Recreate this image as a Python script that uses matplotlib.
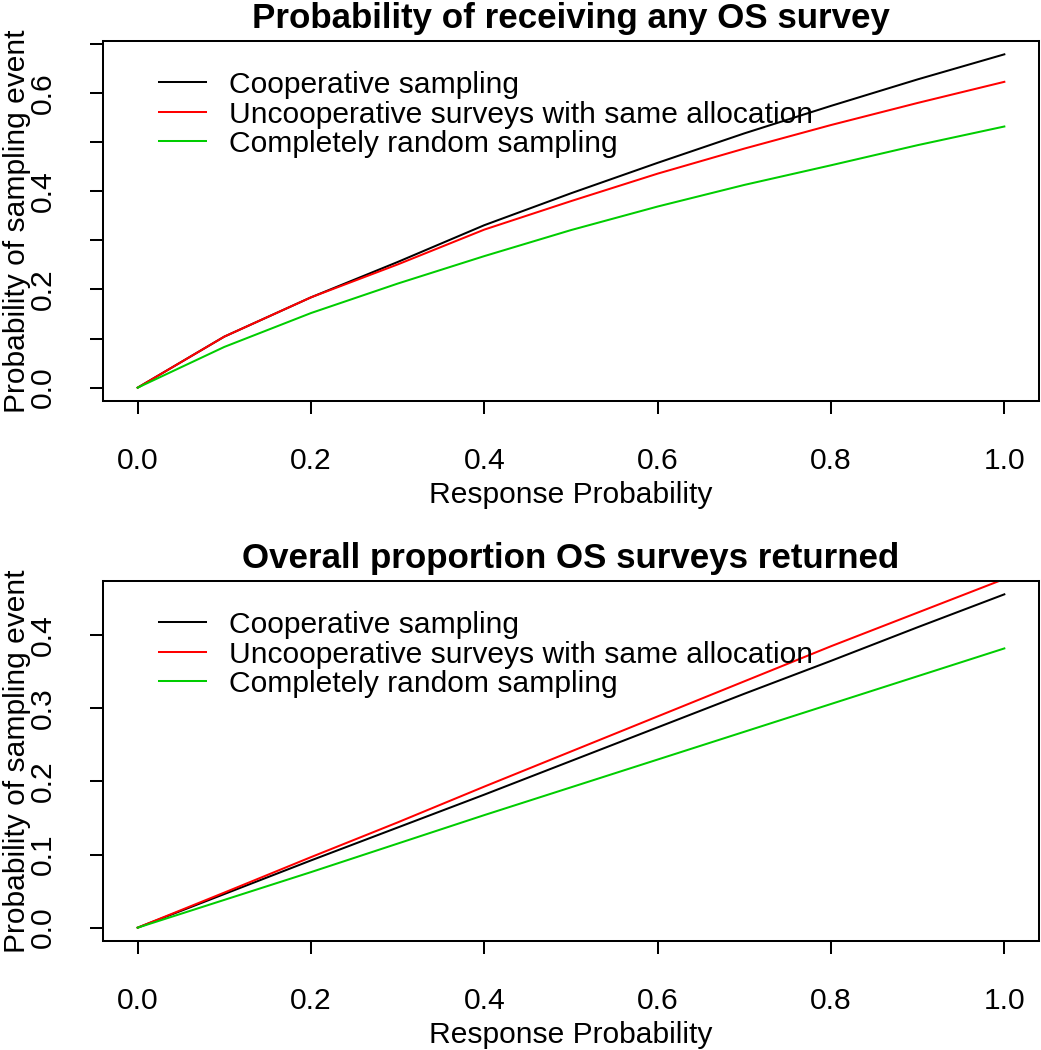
import matplotlib
matplotlib.use("Agg")
import matplotlib.pyplot as plt
from matplotlib.lines import Line2D
import numpy as np

plt.rcParams['font.family'] = ['Liberation Sans', 'DejaVu Sans']

# ---------------- data ----------------
response_prob = [0.0, 0.1, 0.2, 0.3, 0.4, 0.5, 0.6, 0.7, 0.8, 0.9, 1.0]

# Panel 1: Probability of receiving any OS survey
recv_coop = [0.0, 0.104, 0.184, 0.256, 0.331, 0.396, 0.458, 0.518, 0.574, 0.628, 0.679]
recv_uncoop = [0.0, 0.104, 0.184, 0.251, 0.322, 0.380, 0.436, 0.487, 0.535, 0.580, 0.623]
recv_random = [0.0, 0.083, 0.152, 0.212, 0.268, 0.321, 0.369, 0.413, 0.453, 0.494, 0.532]

# Panel 2: Overall proportion OS surveys returned
ret_coop = [0.0, 0.046, 0.092, 0.137, 0.182, 0.228, 0.274, 0.320, 0.365, 0.411, 0.456]
ret_uncoop = [0.0, 0.048, 0.0965, 0.144, 0.193, 0.241, 0.289, 0.337, 0.385, 0.431, 0.477]
ret_random = [0.0, 0.038, 0.076, 0.115, 0.154, 0.192, 0.230, 0.268, 0.306, 0.344, 0.382]

series_labels = ["Cooperative sampling",
                 "Uncooperative surveys with same allocation",
                 "Completely random sampling"]
series_colors = ["black", "#FF0000", "#00CD00"]

titles = ["Probability of receiving any OS survey",
          "Overall proportion OS surveys returned"]
xlabel = "Response Probability"
ylabel = "Probability of sampling event"

xticks = [0.0, 0.2, 0.4, 0.6, 0.8, 1.0]
xticklabels = ["0.0", "0.2", "0.4", "0.6", "0.8", "1.0"]
yticks_top = [0.0, 0.1, 0.2, 0.3, 0.4, 0.5, 0.6, 0.7]
yticklabels_top = ["0.0", "", "0.2", "", "0.4", "", "0.6", ""]
yticks_bot = [0.0, 0.1, 0.2, 0.3, 0.4]
yticklabels_bot = ["0.0", "0.1", "0.2", "0.3", "0.4"]

# ---------------- layout ----------------
W, H = 1041, 1050
DPI = 100
fig = plt.figure(figsize=(W / DPI, H / DPI), dpi=DPI)
fig.patch.set_facecolor("white")

FS = 21.6
TFS = 25.1
LW = 1.45

def add_axes_px(left, top, right, bottom):
    return fig.add_axes([left / W, 1 - bottom / H, (right - left) / W, (bottom - top) / H])

panels = [
    dict(top=41, bottom=401, data=[recv_coop, recv_uncoop, recv_random],
         yticks=yticks_top, yticklabels=yticklabels_top, title=titles[0]),
    dict(top=581, bottom=941, data=[ret_coop, ret_uncoop, ret_random],
         yticks=yticks_bot, yticklabels=yticklabels_bot, title=titles[1]),
]

LEFT, RIGHT = 103, 1039

for p in panels:
    ax = add_axes_px(LEFT, p["top"], RIGHT, p["bottom"])
    ax_h = p["bottom"] - p["top"]
    ax_w = RIGHT - LEFT
    for ys, c in zip(p["data"], series_colors):
        ax.plot(response_prob, ys, color=c, lw=LW, solid_joinstyle="round")
    # R-style 4% padding, ylim from first series
    x0, x1 = min(response_prob), max(response_prob)
    dx = (x1 - x0) * 0.04
    ax.set_xlim(x0 - dx, x1 + dx)
    y0, y1 = min(p["data"][0]), max(p["data"][0])
    dy = (y1 - y0) * 0.04
    ax.set_ylim(y0 - dy, y1 + dy)

    ax.set_xticks(xticks)
    ax.set_xticklabels(xticklabels)
    ax.set_yticks(p["yticks"])
    ax.set_yticklabels(p["yticklabels"], rotation=90, va="center")
    ax.tick_params(axis="both", direction="out", length=9.4, width=LW,
                   labelsize=FS, pad=23.5)
    for s in ax.spines.values():
        s.set_linewidth(LW)

    # title
    ax.text(0.5, 1 + 13 / ax_h, p["title"], transform=ax.transAxes,
            ha="center", va="baseline", fontsize=TFS, fontweight="bold")
    # x label
    ax.text(0.5, -102 / ax_h, xlabel, transform=ax.transAxes,
            ha="center", va="baseline", fontsize=FS)
    # y label
    ax.text((25 - LEFT) / ax_w, 0.5, ylabel, transform=ax.transAxes,
            rotation=90, rotation_mode="anchor", ha="center", va="baseline",
            fontsize=FS)

    # legend (R style, no box)
    row_offsets = [41.3, 70.7, 100.0]
    for lab, c, off in zip(series_labels, series_colors, row_offsets):
        yy = 1 - off / ax_h
        ax.add_line(Line2D([(159 - LEFT) / ax_w, (206.3 - LEFT) / ax_w], [yy, yy],
                           transform=ax.transAxes, color=c, lw=LW))
        ax.text((229 - LEFT) / ax_w, 1 - (off + 11) / ax_h, lab,
                transform=ax.transAxes, ha="left", va="baseline", fontsize=FS)

fig.savefig("out.png", dpi=DPI, facecolor="white")
